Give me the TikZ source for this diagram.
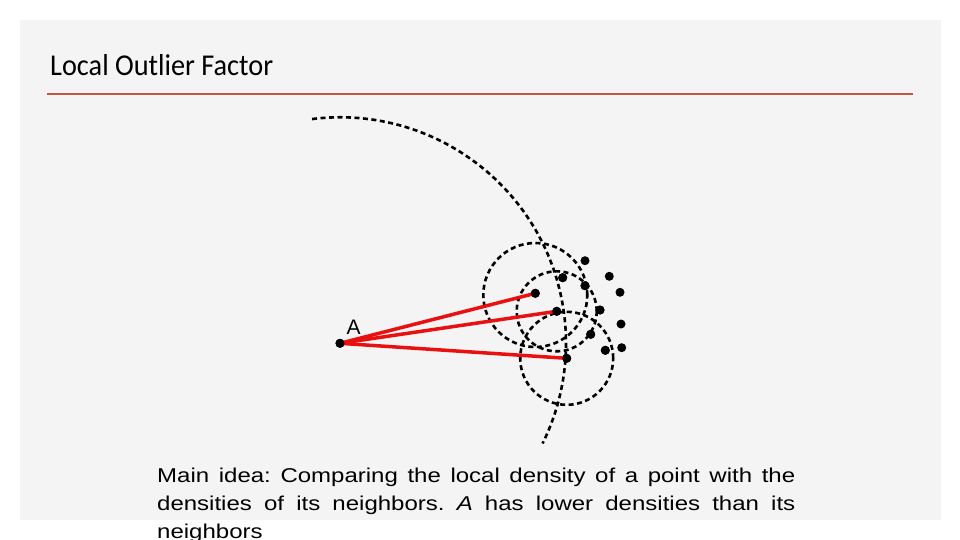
\documentclass[tikz,border=0pt]{standalone}
\usepackage{fontspec}
\setmainfont{Liberation Sans}
\newfontfamily\titlefont{Carlito}
\usepackage{graphicx}
\definecolor{slidebg}{RGB}{244,244,244}
\definecolor{rulecol}{RGB}{196,86,62}
\definecolor{linkred}{RGB}{232,16,16}
\begin{document}
\begin{tikzpicture}[x=1pt,y=-1pt,
  dot/.style={circle,fill=black,inner sep=0pt,minimum size=9pt},
  dashcirc/.style={draw=black,line width=2.6pt,dash pattern=on 5pt off 3.5pt},
  redlink/.style={draw=linkred,line width=3.5pt}]
\useasboundingbox (0,0) rectangle (960,540);
\fill[white] (0,0) rectangle (960,540);
\fill[slidebg] (20,20) rectangle (940.5,520);
% title
\node[anchor=base west,inner sep=0pt] (title) at (50,76)
  {\resizebox{223pt}{21pt}{\titlefont Local Outlier Factor}};
\draw[rulecol,line width=2.5pt] (47,94) coordinate (r1) -- (913,94) coordinate (r2);
% points
\node[dot] (A) at (340,343.3) {};
\node[dot] (p1) at (535.3,293.3) {};
\node[dot] (p2) at (556.7,311.3) {};
\node[dot] (p3) at (566.7,358.3) {};
\node[dot] (q1) at (562.7,277.7) {};
\node[dot] (q2) at (585,260.7) {};
\node[dot] (q3) at (585,285.7) {};
\node[dot] (q4) at (609.3,276.3) {};
\node[dot] (q5) at (620,292.3) {};
\node[dot] (q6) at (600,310) {};
\node[dot] (q7) at (621,324) {};
\node[dot] (q8) at (590.7,334.3) {};
\node[dot] (q9) at (621.7,347.7) {};
\node[dot] (q10) at (605.3,350.3) {};
\node[inner sep=0pt,font=\fontsize{21}{21}\selectfont] (lblA) at (353.7,327.5) {A};
% dashed circles
\path[dashcirc] (A.center) ++(97.1:226pt) arc[start angle=97.1,end angle=-26.3,radius=226pt];
\path[dashcirc] (535.3,295) circle[radius=52pt];
\path[dashcirc] (p2.center) circle[radius=40pt];
\path[dashcirc] (p3.center) circle[radius=46.5pt];
% red links
\draw[redlink] (A.center) -- (p1.center);
\draw[redlink] (A.center) -- (p2.center);
\draw[redlink] (A.center) -- (p3.center);
% redraw dots on top
\foreach \n in {A,p1,p2,p3,q1,q3,q6,q8,q10}{\fill (\n.center) circle[radius=4.5pt];}
% body text
\node[anchor=base west,inner sep=0pt] (body) at (157,482)
  {\scalebox{1.2}[1]{\parbox[t]{531.7pt}{\fontsize{20}{28}\selectfont
   \frenchspacing\hyphenpenalty=10000\exhyphenpenalty=10000\tolerance=10000
   Main idea: Comparing the local density of a point with the densities of its neighbors. \textit{A} has lower densities than its neighbors}}};
\end{tikzpicture}
\end{document}
